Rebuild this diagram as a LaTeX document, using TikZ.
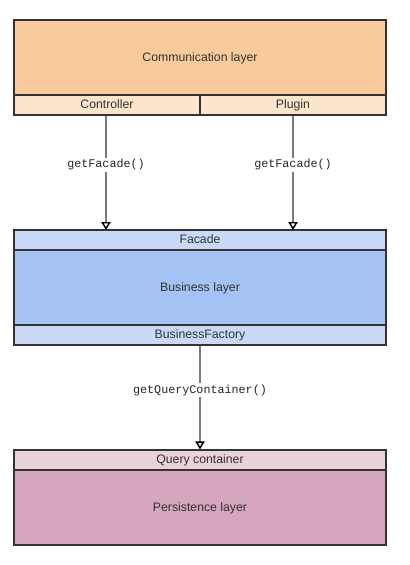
\documentclass[tikz,border=0pt]{standalone}
\usepackage{fontspec}
\setmainfont{Liberation Sans}
\setmonofont{Liberation Mono}
\usetikzlibrary{arrows.meta}
\definecolor{orangeA}{HTML}{F9CB9C}
\definecolor{orangeB}{HTML}{FCE5CD}
\definecolor{blueA}{HTML}{A4C2F4}
\definecolor{blueB}{HTML}{C9DAF8}
\definecolor{pinkA}{HTML}{D5A6BD}
\definecolor{pinkB}{HTML}{EAD1DC}
\definecolor{border}{HTML}{333333}
\definecolor{linegray}{HTML}{7A7A7A}
\tikzset{
  box/.style={draw=border, line width=0.9pt, text=black!80, font=\fontsize{9.2}{11}\selectfont, inner sep=0pt, text height=1.5ex, text depth=0.4ex},
  conn/.style={draw=linegray, line width=1.3pt, -{Triangle[open, length=6pt, width=7pt, line width=1.1pt, color=black]}},
  lbl/.style={fill=white, font=\ttfamily\fontsize{8.8}{10}\selectfont, text=black!85, inner sep=1pt}
}
\begin{document}
\begin{tikzpicture}[x=0.75pt, y=-0.75pt]
\useasboundingbox (0,0) rectangle (410,565);
% Communication layer
\node[box, fill=orangeA, minimum width=372*0.75pt, minimum height=75*0.75pt] (comm) at (200,57.5) {Communication layer};
\node[box, fill=orangeB, minimum width=186*0.75pt, minimum height=20*0.75pt] (ctrl) at (107,105) {Controller};
\node[box, fill=orangeB, minimum width=186*0.75pt, minimum height=20*0.75pt] (plug) at (293,105) {Plugin};
% Business layer
\node[box, fill=blueB, minimum width=372*0.75pt, minimum height=20*0.75pt] (facade) at (200,240) {Facade};
\node[box, fill=blueA, minimum width=372*0.75pt, minimum height=75*0.75pt] (bus) at (200,287.5) {Business layer};
\node[box, fill=blueB, minimum width=372*0.75pt, minimum height=20*0.75pt] (bfac) at (200,335) {BusinessFactory};
% Persistence layer
\node[box, fill=pinkB, minimum width=372*0.75pt, minimum height=20*0.75pt] (qc) at (200,460) {Query container};
\node[box, fill=pinkA, minimum width=372*0.75pt, minimum height=75*0.75pt] (pers) at (200,507.5) {Persistence layer};
% coordinates for arrow ends
\coordinate (c1) at (106,230);
\coordinate (c2) at (293,230);
\draw[conn] (ctrl.south -| c1) -- (c1) node[lbl, pos=0.43] {getFacade()};
\draw[conn] (plug.south -| c2) -- (c2) node[lbl, pos=0.43] {getFacade()};
\draw[conn] (bfac.south) -- (qc.north) node[lbl, pos=0.43] {getQueryContainer()};
\end{tikzpicture}
\end{document}
